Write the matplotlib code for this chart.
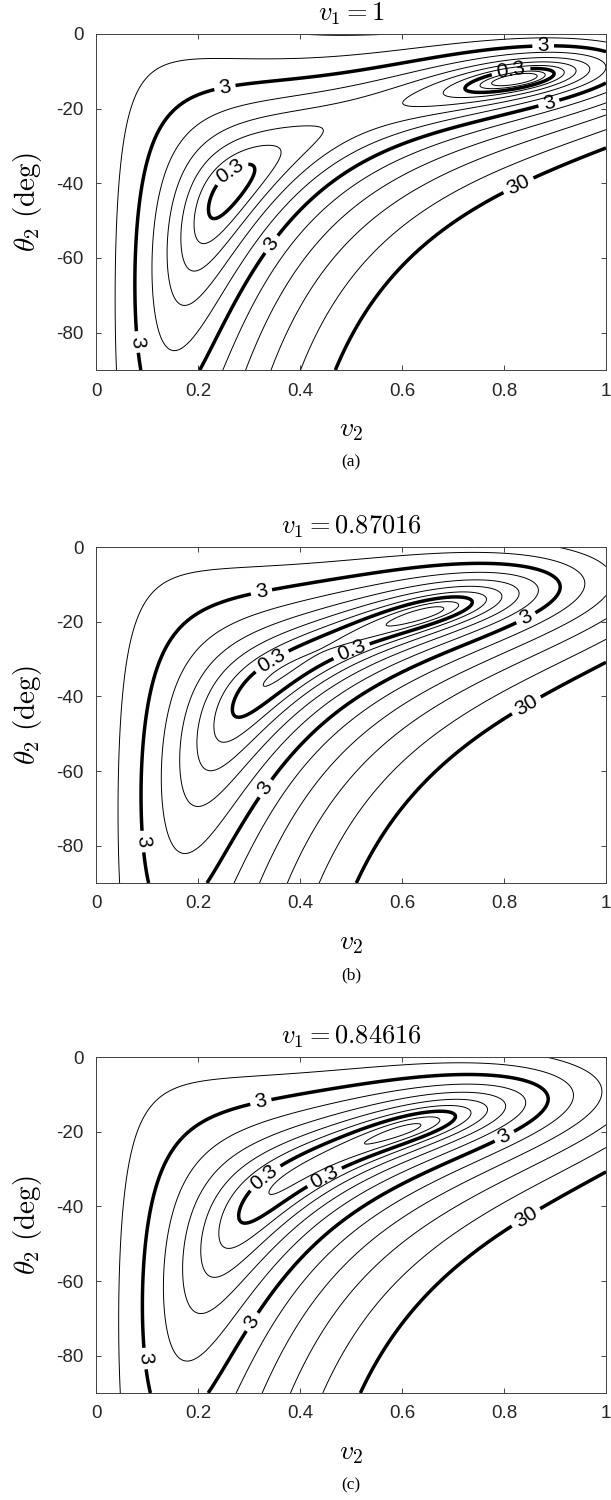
import numpy as np
import matplotlib.pyplot as plt

plt.rcParams['font.family'] = ['Liberation Sans', 'DejaVu Sans']
plt.rcParams['mathtext.fontset'] = 'cm'
plt.rcParams['axes.unicode_minus'] = False

# the three slices
v1_values = [1.0, 0.87016, 0.84616]
v1_titles = [r'$v_1 = 1$', r'$v_1 = 0.87016$', r'$v_1 = 0.84616$']
tags = ['(a)', '(b)', '(c)']

# mismatch model of bus 2, constants fitted to the contours
gain = 89.04
p_weight = 2.14
p_load = 0.1596
q_load = 0.1408
line_g = -0.1058
shunt_b = -0.0079
penalty = 0.33
floor = 0.0393

# contour levels: five per decade, every decade drawn bold and labelled
levels = 0.3 * 10 ** (np.arange(-2, 11) / 5)
bold_levels = [0.3, 3, 30]
thin_levels = [l for l in levels if not np.any(np.isclose(l, bold_levels))]

xticks = [0, 0.2, 0.4, 0.6, 0.8, 1]
xtick_labels = ['0', '0.2', '0.4', '0.6', '0.8', '1']
yticks = [-80, -60, -40, -20, 0]
ytick_labels = ['-80', '-60', '-40', '-20', '0']

# label positions (v2, theta2)
label_spots = [
    [(0.25, -12.3), (0.877, -5.1), (0.89, -19.5), (0.816, -11.8), (0.259, -35.9),
     (0.331, -55), (0.073, -82.6), (0.83, -41)],
    [(0.325, -12.4), (0.845, -19.5), (0.341, -29.7), (0.504, -28.9),
     (0.325, -64), (0.083, -79), (0.845, -42.7)],
    [(0.325, -13.1), (0.802, -21.6), (0.328, -31.8), (0.452, -33.2),
     (0.302, -70.6), (0.08, -81), (0.845, -43.4)],
]


def mismatch(v1, v, th_deg):
    th = np.deg2rad(th_deg)
    a = v1 * v * np.cos(th) - v ** 2
    c = v1 * v * np.sin(th)
    P = a * line_g - c
    Q = a + c * line_g + shunt_b * v ** 2
    return gain * (p_weight * (P - p_load) ** 2 + (Q - q_load) ** 2) + penalty * (1 - v) ** 2 + floor


v2 = np.linspace(0, 1, 600)
th = np.linspace(-90, 0, 600)
V2, TH = np.meshgrid(v2, th)

fig = plt.figure(figsize=(6.11, 15.0), dpi=100)
tops = [34, 547, 1057]
h = 336

for i, v1 in enumerate(v1_values):
    ax = fig.add_axes([96 / 611, 1 - (tops[i] + h) / 1500, 510 / 611, h / 1500])
    F = mismatch(v1, V2, TH)

    ax.contour(V2, TH, F, levels=thin_levels, colors='k', linewidths=0.7)
    cs = ax.contour(V2, TH, F, levels=bold_levels, colors='k', linewidths=2.5)
    ax.clabel(cs, inline=True, fontsize=15, fmt='%g', manual=label_spots[i], inline_spacing=5)

    ax.set_xlim(0, 1)
    ax.set_ylim(-90, 0)
    ax.set_xticks(xticks)
    ax.set_xticklabels(xtick_labels)
    ax.set_yticks(yticks)
    ax.set_yticklabels(ytick_labels)
    ax.tick_params(direction='in', top=True, right=True, length=3.6, width=0.6,
                   labelsize=13.5, colors='#262626', pad=9)
    for s in ax.spines.values():
        s.set_color('#404040')
        s.set_linewidth(0.7)

    ax.text(0.5, 1 + 20 / h, v1_titles[i], transform=ax.transAxes,
            ha='center', va='center', fontsize=19)
    ax.set_xlabel(r'$v_2$', fontsize=20, va='center')
    ax.xaxis.set_label_coords(0.5, -60 / h)
    ax.set_ylabel(r'$\theta_2\ (\mathrm{deg})$', fontsize=21, va='center')
    ax.yaxis.set_label_coords(-68 / 510, 0.5)
    ax.text(0.5, -92 / h, tags[i], transform=ax.transAxes, ha='center', va='center',
            fontsize=12.5, family='Liberation Serif')

fig.savefig('out.png', dpi=100)
